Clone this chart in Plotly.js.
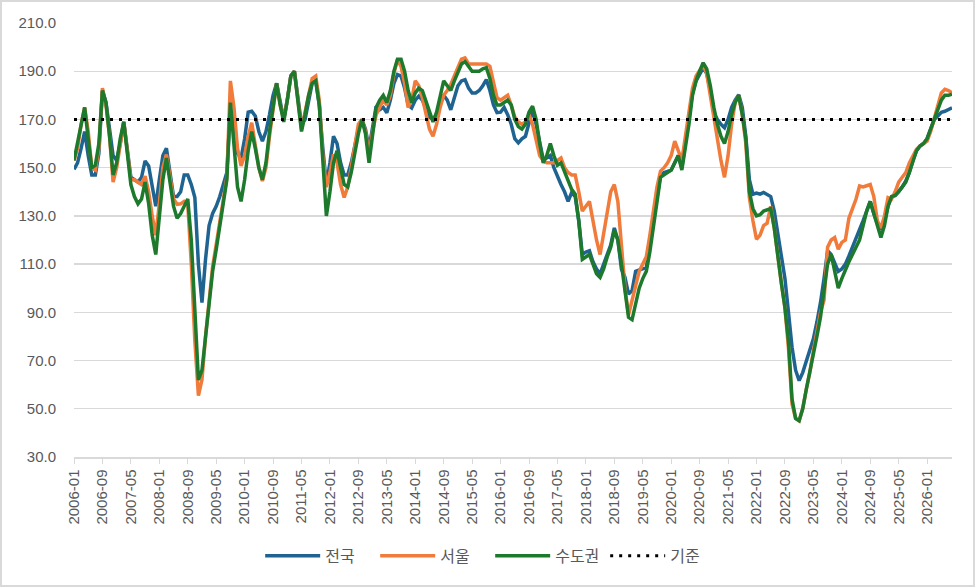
<!DOCTYPE html>
<html><head><meta charset="utf-8">
<script src="https://cdn.plot.ly/plotly-3.0.1.min.js"></script>
<style>
html,body{margin:0;padding:0;background:#fff;}
#chart{width:975px;height:587px;}
#frame{position:absolute;left:0;top:0;width:975px;height:587px;box-sizing:border-box;border:2px solid #d9d9d9;pointer-events:none;}
</style>
</head><body><div id="chart"></div><div id="frame"></div>
<script>
// 전국
const nationwide = [
149.3,152,158,165,155,147,147,156,182,177,166,155,
153,160,169,158,146,145,144,146,152.8,150.7,142,134,
145,155,158,148,138,138,140,147,147,143,137.6,110,
94,112,126,131,134,138,143,148,175,165,156,154,
162,173,173.4,171.4,165,161,165,172,180,185,177,170,
178,188,190,178,168,170,178,185,186,176,158,143,
152,163,160,152,147,147,152,160,166,170,166,158,
167,175.5,174,175,172.8,178,185,188.6,188,183,176,174.8,
178,179.7,178,174,171,170,172,176,180,178,174,179,
184,186,186.5,183,181,181,182,184,186.5,182,176,172.8,
173,175,172,168,162,160.3,162,163,168,174,168,160,
153.4,154,155,150,146,143,140,136,139.7,138,128,114,
115,115.5,111,108,106,110,113,118,125,120,108,104.5,
97.6,99,107,107.5,108,108.6,118,128,138,147,148,148.5,
149,152,155,150,160,170,181,186,189,191.4,189,182,
172.8,170,168,166.6,170,175,178,180.3,175,163,145,139,
139.5,139,139.7,139,138,132,122,112,104,90,75.5,66,
61.7,65,70,74,79,86,94,104,115.5,114,110,107,
108,110,113.4,117,120,124,128,132,136,131,127,125,
128,134,138,138.5,140,142,144.5,148,153,157,159,160,
162,166,170,171.4,173,173.4,174,174.8
];
// 서울
const seoul = [
153,158,168,175,165,150,149,158,183,176,163,144,
150,160,169,157,145,145,144,143,146.5,140,130,122,
135,150,155.5,145,137,134.8,135,136,135,110,78,55.5,
62,80,95,109,118,127,135,146,186,175,158,150.7,
155,163,168.6,160,150,144.5,150,163,175,185,176,170,
178,188,190,178,166,173,181,187,188,178,155,142,
148,155.5,152,143,137.6,142,150,160,168,170,165,155.5,
165,172,175,178,176,180,189,194.8,192,185,175,178,
186,184,179,172,166,163,168,175,180,182,184.5,188,
192,195,195.5,193,193,193,193,193,193,192,185,179,
178,179,180,176,171,169,168,169,172,168,162,155,
153,152,152,152,153,154,150,148,147,147,140,132,
134,136,128,120,114,122,132,140,143,136,118,100,
89,95,102,107,110,113,122,133,142,148.6,150,152,
155,161,157,153,163,173,183,188,190,192.5,189,180,
170,160,153,146,155,168,177,180,172,160,137.6,128,
120.3,122,126,127,134,125,112,102,92,75,52,46,
45,50,58,65,74,83,90,95,117,120,121,116.2,
119,120,129,133,137,142.4,142,142.5,143,138,128,125,
130,137.6,137,140,144,146,148,152,155,157.6,159,160,
161,165,170,175,181,182.5,182,181
];
// 수도권
const capital = [
153,160,168,175,162,150,151,160,182,177,163,147,
152,162,169,156,143,138,135,137,144,135,122,114,
130,145,154,145,134,129,131,134,137,120,90,62,
66,80,95,107,116,125,134,145,177,160,142,136,
145,157,165,158,150,145,152,165,176,185,176,169,
178,188,190,178,165,172,180,185,186,176,150,130,
140,152,157,150,143,142,148,156,164,170,164,152,
165,175,178,180,177,182,190,195,195,190,182,177,
181,183,182,178,173,169,173,180,186,184,182,186,
190,193,194,192,190,190,190,191,191.5,187,180,176,
176,177,178,176,170,167,166,168,173,175.5,170,160,
152,155,160,155,151,152,148,144,141,139,128,112,
113,114,110,106,104.5,108,113,117,124,120,110,100,
88,87,94,100,104,107,115,125,135,146,147,148,
149,152,155,149,158,168,180,186,190,193.5,191,184,
175,168,163,160,165,172,177,180,172,162,140,133,
130,130.5,132,132.5,133,125,112,102,92,78,54,46,
45,50,58,65,72,80,88,100,110,114,106,100,
104,108,111,114,117,120,126,132,136,131,126,121,
126,134,138,138.5,140,142,144,148,153,157,159,160,
162,166,170,175,178,180,180,180.5
];
// 기준
const baseValue = 170;

const seriesNames = ['전국', '서울', '수도권', '기준'];
const tickLabels = ['2006-01','2006-09','2007-05','2008-01','2008-09','2009-05','2010-01','2010-09',
'2011-05','2012-01','2012-09','2013-05','2014-01','2014-09','2015-05','2016-01','2016-09','2017-05',
'2018-01','2018-09','2019-05','2020-01','2020-09','2021-05','2022-01','2022-09','2023-05','2024-01',
'2024-09','2025-05','2026-01'];

const N = Math.max(nationwide.length, seoul.length, capital.length);
const categories = [];
for (let i = 0; i < N; i++) {
  const y = 2006 + Math.floor(i / 12), m = (i % 12) + 1;
  categories.push(y + '-' + (m < 10 ? '0' + m : m));
}

const font = '"Liberation Sans", Arial, "Noto Sans CJK KR", sans-serif';
const traces = [
  {x: categories, y: nationwide, name: seriesNames[0], type: 'scatter', mode: 'lines',
   line: {color: '#1f6391', width: 3.5}},
  {x: categories, y: seoul, name: seriesNames[1], type: 'scatter', mode: 'lines',
   line: {color: '#f07b3a', width: 3.5}},
  {x: categories, y: capital, name: seriesNames[2], type: 'scatter', mode: 'lines',
   line: {color: '#1d7a2d', width: 3.5}},
  {x: [categories[0], categories[N - 1]], y: [baseValue, baseValue], name: seriesNames[3],
   type: 'scatter', mode: 'lines', line: {color: '#000000', width: 3, dash: '3px,6px'}}
];

const layout = {
  width: 975, height: 587,
  margin: {l: 74, r: 23, t: 23, b: 130},
  paper_bgcolor: '#ffffff', plot_bgcolor: '#ffffff',
  font: {family: font, size: 15, color: '#595959'},
  showlegend: true,
  legend: {orientation: 'h', x: 0.474, xanchor: 'center', y: -0.228, yanchor: 'middle',
           font: {family: '"Noto Sans CJK KR", "Liberation Sans", sans-serif', size: 16, color: '#595959'},
           itemwidth: 55, entrywidth: 45, traceorder: 'normal'},
  xaxis: {type: 'category', range: [0, N - 1], tickmode: 'array', tickvals: tickLabels, ticktext: tickLabels,
          tickangle: -90, ticks: 'outside', ticklen: 5, tickcolor: '#d9d9d9', tickwidth: 1,
          showline: true, linecolor: '#d9d9d9', linewidth: 1.5, showgrid: false, zeroline: false,
          tickfont: {family: font, size: 15, color: '#595959'}},
  yaxis: {range: [30, 210], dtick: 20, tick0: 30, tickformat: '.1f', showgrid: true, gridcolor: '#d9d9d9',
          gridwidth: 1.3, zeroline: false, showline: false, ticks: '', ticklabelstandoff: 17,
          tickfont: {family: font, size: 15, color: '#595959'}}
};

Plotly.newPlot('chart', traces, layout, {displayModeBar: false, staticPlot: true});
</script></body></html>
